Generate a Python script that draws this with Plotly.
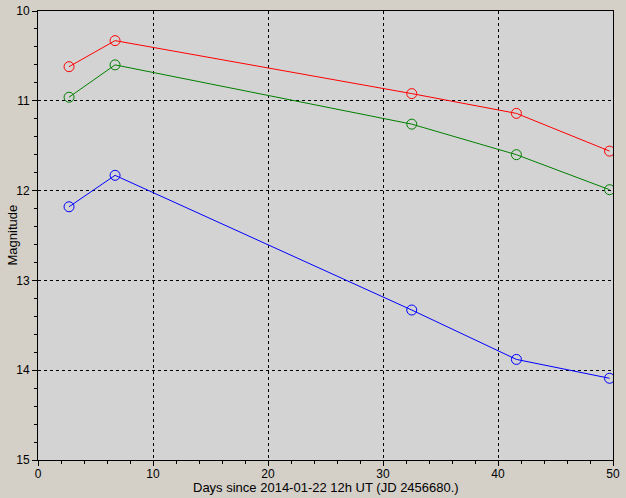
import plotly.graph_objects as go

# Days since 2014-01-22 12h UT
days = [2.7, 6.7, 32.5, 41.6, 49.7]

# Magnitudes per band
mag_red = [10.62, 10.33, 10.92, 11.14, 11.56]
mag_green = [10.96, 10.60, 11.26, 11.60, 11.99]
mag_blue = [12.18, 11.83, 13.33, 13.88, 14.09]

series = [
    (mag_red, 'red'),
    (mag_green, 'green'),
    (mag_blue, 'blue'),
]

fig = go.Figure()

for mags, color in series:
    fig.add_trace(go.Scatter(
        x=days, y=mags, mode='lines+markers',
        line=dict(color=color, width=1),
        marker=dict(symbol='circle-open', size=10, color=color, line=dict(width=1)),
        showlegend=False,
    ))

axis_style = dict(
    showline=True, mirror=True, linecolor='black', linewidth=1,
    showgrid=True, gridcolor='black', griddash='3px,3px', gridwidth=1,
    ticks='outside', ticklen=5, tickcolor='black',
    zeroline=False, automargin=False,
    tickfont=dict(family='Liberation Sans', size=12, color='black'),
)

fig.update_layout(
    width=626, height=498,
    margin=dict(l=38, r=13, t=11, b=38),
    paper_bgcolor='#d4d0c8',
    plot_bgcolor='#d3d3d3',
    font=dict(family='Liberation Sans', size=12, color='black'),
    xaxis=dict(
        range=[0, 50], dtick=10,
        minor=dict(dtick=2, ticks='outside', ticklen=3, tickcolor='black', showgrid=False),
        ticklabelstandoff=-2,
        **axis_style,
    ),
    yaxis=dict(
        range=[15, 10], dtick=1,
        minor=dict(dtick=0.2, ticks='outside', ticklen=3, tickcolor='black', showgrid=False),
        **axis_style,
    ),
)

# axis titles as annotations so they sit where the reference has them
title_font = dict(family='Liberation Sans', size=13, color='black')
fig.add_annotation(text='Days since 2014-01-22 12h UT (JD 2456680.)',
                   xref='paper', yref='paper', x=0.5, y=0,
                   yanchor='middle', yshift=-27, showarrow=False, font=title_font)
fig.add_annotation(text='Magnitude', textangle=-90,
                   xref='paper', yref='paper', x=0, y=0.5,
                   xanchor='center', xshift=-26, showarrow=False, font=title_font)

# page body margin would shift the figure
fig.write_html("out.html", config={'displayModeBar': False},
               post_script="document.body.style.margin='0';")
